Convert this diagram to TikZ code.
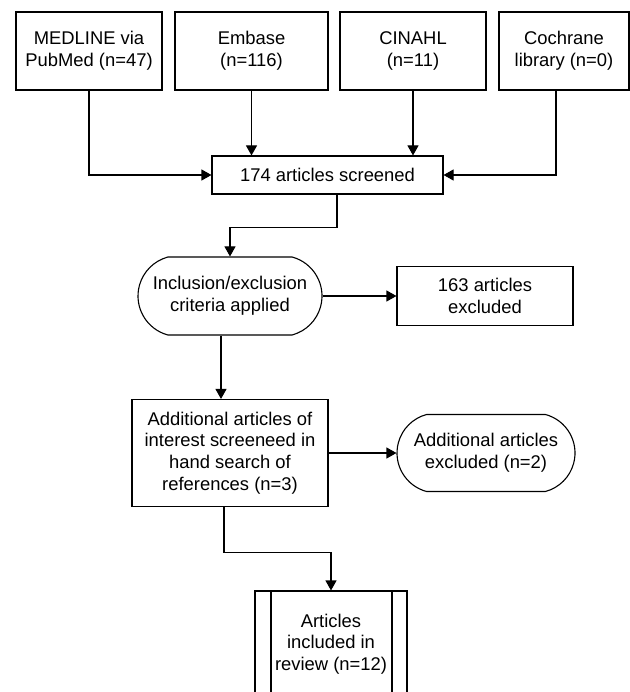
\documentclass[tikz,border=0pt]{standalone}
\usepackage{fontspec}
\setmainfont{Liberation Sans}
\usetikzlibrary{positioning,shapes,shapes.misc,arrows.meta}

\tikzset{
  box/.style={draw=black,rectangle,align=center,inner sep=0pt,
    font=\fontsize{18.4}{21.7}\selectfont},
  term/.style={box,rounded rectangle,rounded rectangle arc length=150},
  final/.style={box,path picture={
      \draw ([xshift=16pt]path picture bounding box.north west) -- ([xshift=16pt]path picture bounding box.south west);
      \draw ([xshift=-15pt]path picture bounding box.north east) -- ([xshift=-15pt]path picture bounding box.south east);}},
  arr/.style={-{Triangle[length=10pt,width=11pt]}}
}

\begin{document}
\begin{tikzpicture}[x=1pt,y=-1pt,line width=1.1pt]
                \useasboundingbox (0,0) rectangle (629,692);
                \node[box,minimum width=146pt,minimum height=78pt] (m) at (89,51) {MEDLINE via\\PubMed (n=47)};
                \node[box,minimum width=153pt,minimum height=78pt] (e) at (251.5,51) {Embase\\(n=116)};
                \node[box,minimum width=146pt,minimum height=78pt] (c) at (413,51) {CINAHL\\(n=11)};
                \node[box,minimum width=130pt,minimum height=78pt] (k) at (564,51) {Cochrane\\library (n=0)};
                \node[box,minimum width=231pt,minimum height=38pt] (s) at (327.5,175) {174 articles screened};
                \node[term,minimum width=184pt,minimum height=78pt] (a) at (230,296) {Inclusion/exclusion\\criteria applied};
                \node[box,minimum width=176pt,minimum height=59pt] (x1) at (485,296) {163 articles\\excluded};
                \node[box,minimum width=196pt,minimum height=107pt] (h) at (230,453) {Additional articles of\\interest screeneed in\\hand search of\\references (n=3)};
                \node[term,minimum width=178pt,minimum height=77pt] (x2) at (486,453) {Additional articles\\excluded (n=2)};
                \node[final,minimum width=152pt,minimum height=106pt] (f) at (331,644) {Articles\\included in\\review (n=12)};
                \draw[arr] (m.south) |- (s.west);
                \draw[arr] (e.south) -- (e.south |- s.north);
                \draw[arr] (c.south) -- (c.south |- s.north);
                \draw[arr] ([xshift=-8pt]k.south) |- (s.east);
                \draw[arr] ([xshift=9.5pt]s.south) -- ++(0,33) -| (a.north);
                \draw[arr] (a.east) -- (x1.west);
                \draw[arr] ([xshift=-9pt]a.south) -- ([xshift=-9pt]a.south |- h.north);
                \draw[arr] (h.east) -- (x2.west);
                \draw[arr] ([xshift=-6pt]h.south) -- ++(0,45) -| (f.north);
            \end{tikzpicture}
\end{document}
